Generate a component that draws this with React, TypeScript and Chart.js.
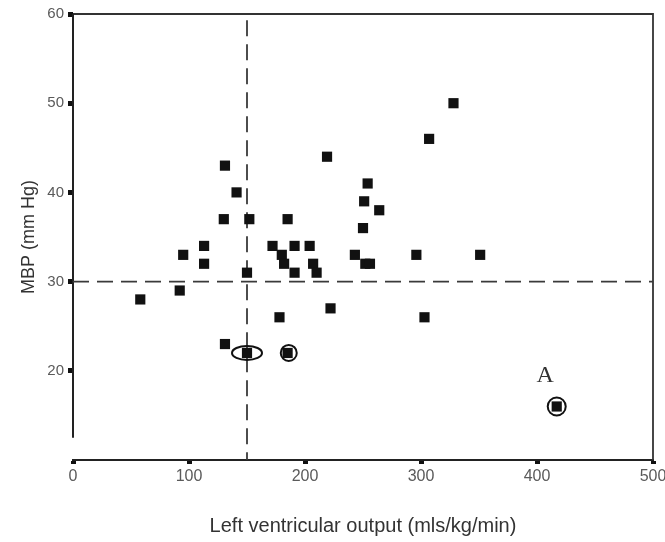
import React, { useEffect, useRef } from 'react';
import { Chart, registerables } from 'chart.js';

Chart.register(...registerables);

// Data
const lvOutput = [58, 92, 95, 113, 113, 131, 130, 141, 131, 150, 152, 150, 185, 178, 172, 180, 182, 185, 191, 191, 204, 207, 210, 219, 222, 243, 250, 251, 254, 264, 252, 256, 296, 351, 307, 328, 303, 417];
const mbp = [28, 29, 33, 34, 32, 43, 37, 40, 23, 31, 37, 22, 22, 26, 34, 33, 32, 37, 34, 31, 34, 32, 31, 44, 27, 33, 36, 39, 41, 38, 32, 32, 33, 33, 46, 50, 26, 16];

const xTickValues = [0, 100, 200, 300, 400, 500];
const yTickValues = [10, 20, 30, 40, 50, 60];

const refLvOutput = 150;
const refMbp = 30;

const ellipseLv = [150];
const ellipseMbp = [22];
const circleLv = [186, 417];
const circleMbp = [22, 16];
const circleSize = [8, 9];

const labelTexts = ['A'];
const labelLv = [407];
const labelMbp = [19.5];

const xTitle = 'Left ventricular output (mls/kg/min)';
const yTitle = 'MBP (mm Hg)';

const FONT = "'Liberation Sans', Arial, sans-serif";

const overlayPlugin = {
  id: 'overlay',
  beforeDatasetsDraw(chart: any) {
    const { ctx, chartArea, scales } = chart;
    const xs = scales.x;
    const ys = scales.y;
    ctx.save();
    // top and right frame
    ctx.strokeStyle = '#333';
    ctx.lineWidth = 1.8;
    ctx.beginPath();
    ctx.moveTo(chartArea.left, chartArea.top);
    ctx.lineTo(chartArea.right, chartArea.top);
    ctx.lineTo(chartArea.right, chartArea.bottom);
    ctx.stroke();
    // left axis line (stops short of x axis)
    ctx.strokeStyle = '#222';
    ctx.lineWidth = 2;
    ctx.beginPath();
    ctx.moveTo(chartArea.left, chartArea.top);
    ctx.lineTo(chartArea.left, ys.getPixelForValue(12.5));
    ctx.stroke();
    // dashed reference lines
    ctx.strokeStyle = '#3a3a3a';
    ctx.lineWidth = 1.8;
    ctx.setLineDash([16, 8]);
    const vx = xs.getPixelForValue(refLvOutput);
    ctx.beginPath();
    ctx.moveTo(vx, ys.getPixelForValue(59.3));
    ctx.lineTo(vx, chartArea.bottom);
    ctx.stroke();
    const hy = ys.getPixelForValue(refMbp);
    ctx.beginPath();
    ctx.moveTo(chartArea.left, hy);
    ctx.lineTo(chartArea.right, hy);
    ctx.stroke();
    ctx.restore();
  },
  afterDatasetsDraw(chart: any) {
    const { ctx, scales } = chart;
    const xs = scales.x;
    const ys = scales.y;
    ctx.save();
    ctx.strokeStyle = '#111';
    ctx.lineWidth = 2;
    ellipseLv.forEach((v, i) => {
      ctx.beginPath();
      ctx.ellipse(xs.getPixelForValue(v), ys.getPixelForValue(ellipseMbp[i]), 15, 7, 0, 0, Math.PI * 2);
      ctx.stroke();
    });
    circleLv.forEach((v, i) => {
      ctx.beginPath();
      ctx.arc(xs.getPixelForValue(v), ys.getPixelForValue(circleMbp[i]), circleSize[i], 0, Math.PI * 2);
      ctx.stroke();
    });
    ctx.fillStyle = '#333';
    ctx.font = "24px 'Liberation Serif', 'Times New Roman', serif";
    ctx.textAlign = 'center';
    ctx.textBaseline = 'middle';
    labelTexts.forEach((t, i) => {
      ctx.fillText(t, xs.getPixelForValue(labelLv[i]), ys.getPixelForValue(labelMbp[i]));
    });
    ctx.restore();
  },
};

export default function App() {
  const canvasRef = useRef<HTMLCanvasElement | null>(null);

  useEffect(() => {
    if (!canvasRef.current) return;
    const points = lvOutput.map((x, i) => ({ x, y: mbp[i] }));
    const chart = new Chart(canvasRef.current, {
      type: 'scatter',
      data: {
        datasets: [
          {
            data: points,
            pointStyle: 'rect',
            pointRadius: 7.2,
            backgroundColor: '#111',
            borderColor: '#111',
            borderWidth: 0,
          },
        ],
      },
      options: {
        responsive: false,
        animation: false,
        events: [],
        layout: { padding: { top: 14, right: 12, left: 0, bottom: 0 } },
        plugins: { legend: { display: false }, tooltip: { enabled: false } },
        scales: {
          x: {
            type: 'linear',
            min: 0,
            max: 500,
            afterBuildTicks: (scale: any) => {
              scale.ticks = xTickValues.map((v) => ({ value: v }));
            },
            ticks: { color: '#5a5a5a', font: { family: FONT, size: 16 }, padding: 3 },
            grid: { drawOnChartArea: false, drawTicks: true, tickLength: 4, tickWidth: 5, tickColor: '#111' },
            border: { display: true, color: '#222', width: 2 },
            title: { display: true, text: xTitle, color: '#333', font: { family: FONT, size: 20 }, padding: { top: 0, bottom: 4 } },
            afterFit: (scale: any) => {
              scale.height = 82;
              scale.paddingLeft = 0;
              scale.paddingRight = 0;
            },
          },
          y: {
            type: 'linear',
            min: 10,
            max: 60,
            afterBuildTicks: (scale: any) => {
              scale.ticks = yTickValues.map((v) => ({ value: v }));
            },
            ticks: {
              color: '#5a5a5a',
              font: { family: FONT, size: 15 },
              padding: 4,
              callback: (v: any) => (v === 10 ? '' : String(v)),
            },
            grid: {
              drawOnChartArea: false,
              drawTicks: true,
              tickLength: 5,
              tickWidth: 5,
              tickColor: (c: any) => (c.tick && c.tick.value === 10 ? 'rgba(0,0,0,0)' : '#111'),
            },
            border: { display: false },
            title: { display: true, text: yTitle, color: '#333', font: { family: FONT, size: 18 }, padding: { top: 18, bottom: 0 } },
            afterFit: (scale: any) => {
              scale.width = 73;
              scale.paddingTop = 0;
              scale.paddingBottom = 0;
            },
          },
        },
      },
      plugins: [overlayPlugin],
    } as any);
    return () => chart.destroy();
  }, []);

  return (
    <div style={{ position: 'absolute', left: 0, top: 0, width: 665, height: 542, background: '#fff' }}>
      <canvas ref={canvasRef} width={665} height={542} />
    </div>
  );
}
